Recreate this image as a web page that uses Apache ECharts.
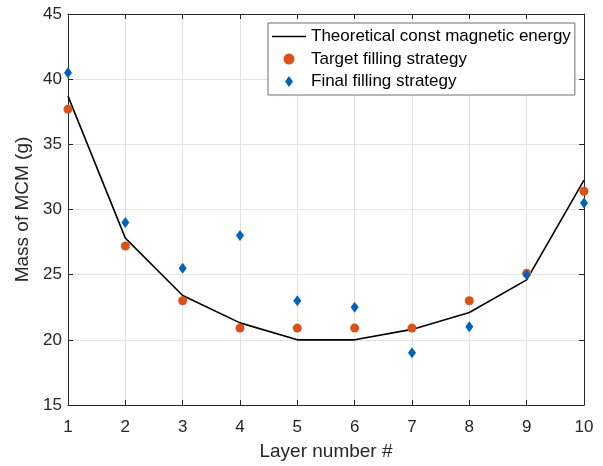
<!DOCTYPE html>
<html>
<head>
<meta charset="utf-8">
<script src="https://cdn.jsdelivr.net/npm/echarts@6/dist/echarts.min.js"></script>
<style>
html,body{margin:0;padding:0;background:#fff;}
#chart{width:603px;height:466px;}
</style>
</head>
<body>
<div id="chart"></div>
<script>
const layers = [1, 2, 3, 4, 5, 6, 7, 8, 9, 10];
const theoretical = [38.7, 27.8, 23.4, 21.3, 20.0, 20.0, 20.8, 22.1, 24.6, 32.25];
const target = [37.7, 27.2, 23.0, 20.9, 20.9, 20.9, 20.9, 23.0, 25.1, 31.4];
const finalFill = [40.5, 29.0, 25.5, 28.0, 23.0, 22.5, 19.0, 21.0, 25.0, 30.5];
const yTicks = [15, 20, 25, 30, 35, 40, 45];

const seriesNames = ['Theoretical const magnetic energy', 'Target filling strategy', 'Final filling strategy'];
const pair = (xs, ys) => xs.map((x, i) => [x, ys[i]]);

const FONT = 'Liberation Sans, Arial, sans-serif';
const AX = '#262626';
const GRID = '#e3e3e3';
const DIAMOND = 'path://M5,0L10,7L5,14L0,7Z';

const chart = echarts.init(document.getElementById('chart'));
chart.setOption({
  animation: false,
  backgroundColor: '#ffffff',
  textStyle: { fontFamily: FONT },
  grid: { left: 68, right: 19, top: 14, bottom: 58 },
  legend: {
    left: 268, top: 23,
    orient: 'vertical',
    padding: [5, 4, 5, 4],
    itemGap: 5.5,
    itemWidth: 34, itemHeight: 11,
    backgroundColor: '#ffffff',
    borderColor: '#6e6e6e', borderWidth: 1,
    textStyle: { fontFamily: FONT, fontSize: 17, color: '#000' },
    data: [
      { name: seriesNames[0], icon: 'path://M0,0L34,0L34,1.6L0,1.6Z' },
      { name: seriesNames[1], icon: 'circle' },
      { name: seriesNames[2], icon: DIAMOND }
    ]
  },
  xAxis: [{
    type: 'value', min: 1, max: 10, interval: 1,
    name: 'Layer number #', nameLocation: 'middle', nameGap: 37,
    nameTextStyle: { fontFamily: FONT, fontSize: 19, color: AX },
    axisLine: { show: true, lineStyle: { color: AX, width: 1 } },
    axisTick: { show: true, inside: true, length: 5, lineStyle: { color: AX } },
    axisLabel: { fontFamily: FONT, fontSize: 17, color: AX, margin: 14 },
    splitLine: { show: true, lineStyle: { color: GRID, width: 1 } }
  }, {
    type: 'value', min: 1, max: 10, interval: 1, position: 'top',
    axisLine: { show: true, onZero: false, lineStyle: { color: AX, width: 1 } },
    axisTick: { show: true, inside: true, length: 5, lineStyle: { color: AX } },
    axisLabel: { show: false }, splitLine: { show: false }
  }],
  yAxis: [{
    type: 'value', min: yTicks[0], max: yTicks[yTicks.length - 1], interval: 5,
    name: 'Mass of MCM (g)', nameLocation: 'middle', nameGap: 30, nameRotate: 90,
    nameTextStyle: { fontFamily: FONT, fontSize: 19, color: AX },
    axisLine: { show: true, lineStyle: { color: AX, width: 1 } },
    axisTick: { show: true, inside: true, length: 5, lineStyle: { color: AX } },
    axisLabel: { fontFamily: FONT, fontSize: 17, color: AX, margin: 6 },
    splitLine: { show: true, lineStyle: { color: GRID, width: 1 } }
  }, {
    type: 'value', min: yTicks[0], max: yTicks[yTicks.length - 1], interval: 5, position: 'right',
    axisLine: { show: true, onZero: false, lineStyle: { color: AX, width: 1 } },
    axisTick: { show: true, inside: true, length: 5, lineStyle: { color: AX } },
    axisLabel: { show: false }, splitLine: { show: false }
  }],
  series: [{
    name: seriesNames[0], type: 'line', symbol: 'none',
    data: pair(layers, theoretical),
    lineStyle: { color: '#000000', width: 1.6 },
    itemStyle: { color: '#000000' },
    z: 2
  }, {
    name: seriesNames[1], type: 'scatter', symbol: 'circle', symbolSize: 9,
    data: pair(layers, target),
    itemStyle: { color: '#D95319', opacity: 1 },
    z: 3
  }, {
    name: seriesNames[2], type: 'scatter', symbol: DIAMOND, symbolSize: [8, 11],
    data: pair(layers, finalFill),
    itemStyle: { color: '#0062BD', opacity: 1 },
    z: 4
  }]
});
</script>
</body>
</html>
